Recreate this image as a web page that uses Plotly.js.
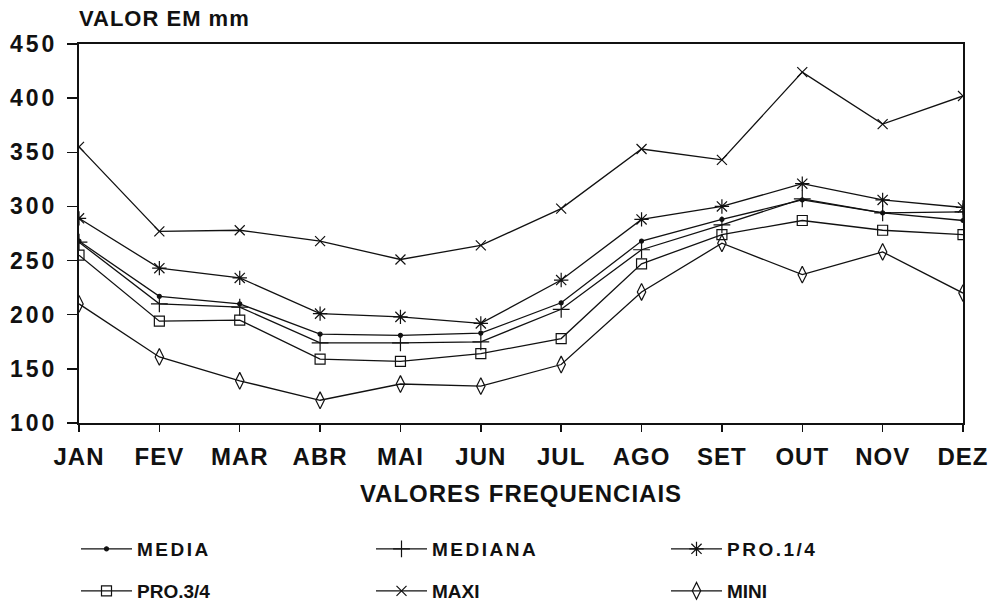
<!DOCTYPE html>
<html>
<head>
<meta charset="utf-8">
<script src="https://cdn.plot.ly/plotly-3.0.1.min.js"></script>
<style>
  html, body { margin: 0; padding: 0; background: #fff; }
  #chart { width: 994px; height: 602px; }
  .ytick text { letter-spacing: 3px; }
  .xtick text { letter-spacing: 1px; }
  .g-xtitle text { letter-spacing: 1px; }
  .legendtext { letter-spacing: 2.5px; }
  .gtitle { letter-spacing: 1px; }
</style>
</head>
<body>
<div id="chart"></div>
<script>
// Monthly rainfall statistics (mm)
const months = ['JAN', 'FEV', 'MAR', 'ABR', 'MAI', 'JUN', 'JUL', 'AGO', 'SET', 'OUT', 'NOV', 'DEZ'];
const media   = [268, 217, 210, 182, 181, 183, 211, 268, 288, 306, 294, 287];
const mediana = [267, 210, 207, 174, 174, 175, 205, 260, 283, 307, 294, 295];
const pro14   = [289, 243, 234, 201, 198, 192, 232, 288, 300, 321, 306, 299];
const pro34   = [255, 194, 195, 159, 157, 164, 178, 247, 274, 287, 278, 274];
const maxi    = [355, 277, 278, 268, 251, 264, 298, 353, 343, 424, 376, 402];
const mini    = [210, 161, 139, 121, 136, 134, 154, 221, 266, 237, 258, 220];
const yTicks  = [100, 150, 200, 250, 300, 350, 400, 450];

const FONT = 'Liberation Sans, Arial, sans-serif';
const INK = '#111';

function series(name, values, symbol, size, legendId) {
  return {
    type: 'scatter',
    mode: 'lines+markers',
    name: name,
    x: months,
    y: values,
    legend: legendId,
    line: { color: INK, width: 1.3 },
    marker: { symbol: symbol, size: size, color: INK, line: { color: INK, width: 1.2 } },
    hoverinfo: 'x+y+name'
  };
}

const traces = [
  series('MEDIA',   media,   'circle',          4,  'legend'),
  series('MEDIANA', mediana, 'cross-thin-open', 12, 'legend'),
  series('PRO.1/4', pro14,   'asterisk-open',   12, 'legend'),
  series('PRO.3/4', pro34,   'square-open',     10, 'legend2'),
  series('MAXI',    maxi,    'x-thin-open',     10, 'legend2'),
  series('MINI',    mini,    'diamond-tall-open', 12, 'legend2')
];

// Two single-row legends, three entries each
const legendBase = {
  orientation: 'h',
  xref: 'container', yref: 'container',
  x: 76 / 994, xanchor: 'left', yanchor: 'middle',
  entrywidth: 229, entrywidthmode: 'pixels',
  itemwidth: 51,
  font: { family: FONT, size: 19, color: INK, weight: 'bold' },
  bgcolor: 'rgba(0,0,0,0)',
  traceorder: 'normal'
};

const layout = {
  width: 994,
  height: 602,
  paper_bgcolor: '#fff',
  plot_bgcolor: '#fff',
  margin: { l: 79, r: 31, t: 44, b: 179 },
  showlegend: true,
  title: {
    text: 'VALOR EM mm',
    xref: 'paper', x: 0, xanchor: 'left',
    yref: 'container', y: 1 - 18 / 602, yanchor: 'middle',
    font: { family: FONT, size: 22, color: INK, weight: 'bold' }
  },
  xaxis: {
    type: 'category',
    categoryorder: 'array',
    categoryarray: months,
    range: [0, 11],
    showline: true, mirror: true, linecolor: INK, linewidth: 2,
    showgrid: false, zeroline: false,
    ticks: 'outside', ticklen: 7, tickwidth: 1.5, tickcolor: INK,
    ticklabelstandoff: 4,
    tickfont: { family: FONT, size: 24, color: INK, weight: 'bold' },
    title: {
      text: 'VALORES FREQUENCIAIS',
      standoff: 16,
      font: { family: FONT, size: 24, color: INK, weight: 'bold' }
    },
    fixedrange: true
  },
  yaxis: {
    range: [100, 450],
    tickvals: yTicks,
    ticktext: yTicks.map(String),
    showline: true, mirror: true, linecolor: INK, linewidth: 2,
    showgrid: false, zeroline: false,
    ticks: 'outside', ticklen: 10, tickwidth: 1.5, tickcolor: INK,
    ticklabelstandoff: 5,
    tickfont: { family: FONT, size: 23, color: INK, weight: 'bold' },
    fixedrange: true
  },
  legend: Object.assign({}, legendBase, { y: 1 - 549 / 602 }),
  legend2: Object.assign({}, legendBase, { y: 1 - 591 / 602 })
};

Plotly.newPlot('chart', traces, layout, { displayModeBar: false, staticPlot: true });
</script>
</body>
</html>
